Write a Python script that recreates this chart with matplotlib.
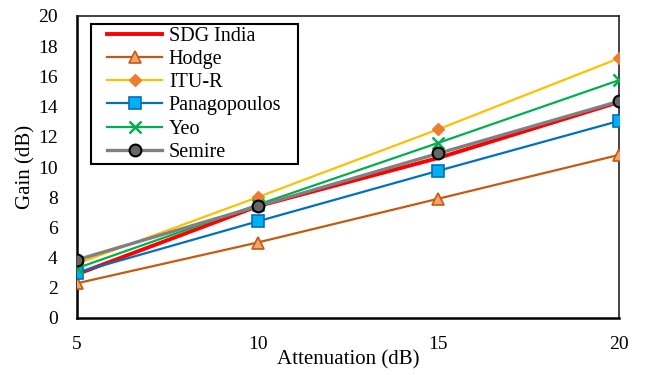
import matplotlib
matplotlib.use("Agg")
import matplotlib.pyplot as plt
from matplotlib.patches import Rectangle

plt.rcParams['font.family'] = ['Liberation Serif', 'DejaVu Serif']

attenuation = [5, 10, 15, 20]
sdg_india = [2.9, 7.4, 10.6, 14.3]
hodge = [2.3, 5.0, 7.9, 10.8]
itu_r = [3.6, 8.0, 12.5, 17.2]
panagopoulos = [3.0, 6.4, 9.75, 13.05]
yeo = [3.3, 7.5, 11.6, 15.75]
semire = [3.85, 7.4, 10.9, 14.35]

x_ticks = [5, 10, 15, 20]
y_ticks = [0, 2, 4, 6, 8, 10, 12, 14, 16, 18, 20]

fig = plt.figure(figsize=(6.45, 3.75), dpi=100)
ax = fig.add_axes([77/645, 1 - 318/375, (619-77)/645, (318-16)/375])

ax.plot(attenuation, sdg_india, color='#FF0000', lw=2.8, label='SDG India', zorder=3)
ax.plot(attenuation, hodge, color='#C55A11', lw=1.6, marker='^', ms=8.5,
        mfc='#F4A46A', mec='#C55A11', mew=1.2, label='Hodge', zorder=3)
ax.plot(attenuation, itu_r, color='#FFC000', lw=1.6, marker='D', ms=6.5,
        mfc='#ED7D31', mec='#ED7D31', label='ITU-R', zorder=3)
ax.plot(attenuation, panagopoulos, color='#0070C0', lw=1.6, marker='s', ms=8,
        mfc='#00B0F0', mec='#0070C0', mew=1.2, label='Panagopoulos', zorder=3)
ax.plot(attenuation, yeo, color='#00B050', lw=1.6, marker='x', ms=8, mew=1.8,
        mec='#00B050', label='Yeo', zorder=3)
ax.plot(attenuation, semire, color='#808080', lw=2.4, marker='o', ms=8.5,
        mfc='#666666', mec='#000000', mew=1.5, label='Semire', zorder=4)

ax.set_xlim(5, 20)
ax.set_ylim(0, 20)
ax.set_xticks(x_ticks)
ax.set_yticks(y_ticks)
ax.tick_params(axis='both', length=0, labelsize=14)
ax.tick_params(axis='x', pad=13)
ax.tick_params(axis='y', pad=14)

for side in ['left', 'bottom']:
    ax.spines[side].set_linewidth(1.8)
    ax.spines[side].set_color('black')
for side in ['top', 'right']:
    ax.spines[side].set_linewidth(1.2)
    ax.spines[side].set_color('#222222')

ax.set_xlabel('Attenuation (dB)', fontsize=15, labelpad=-2)
ax.set_ylabel('Gain (dB)', fontsize=15, labelpad=2)

# legend box frame (Excel style)
frame = Rectangle(((91-77)/542, (318-164)/302), (298-91)/542, (164-24)/302,
                  transform=ax.transAxes, facecolor='white', edgecolor='black',
                  lw=1.5, zorder=5)
ax.add_patch(frame)

leg = ax.legend(loc='upper left', bbox_to_anchor=((107-77)/542, (318-27)/302),
                fontsize=14.5, frameon=False,
                handlelength=2.75, handletextpad=0.32, labelspacing=0.2,
                borderpad=0, borderaxespad=0)
leg.set_zorder(6)

fig.savefig('out.png', dpi=100)
